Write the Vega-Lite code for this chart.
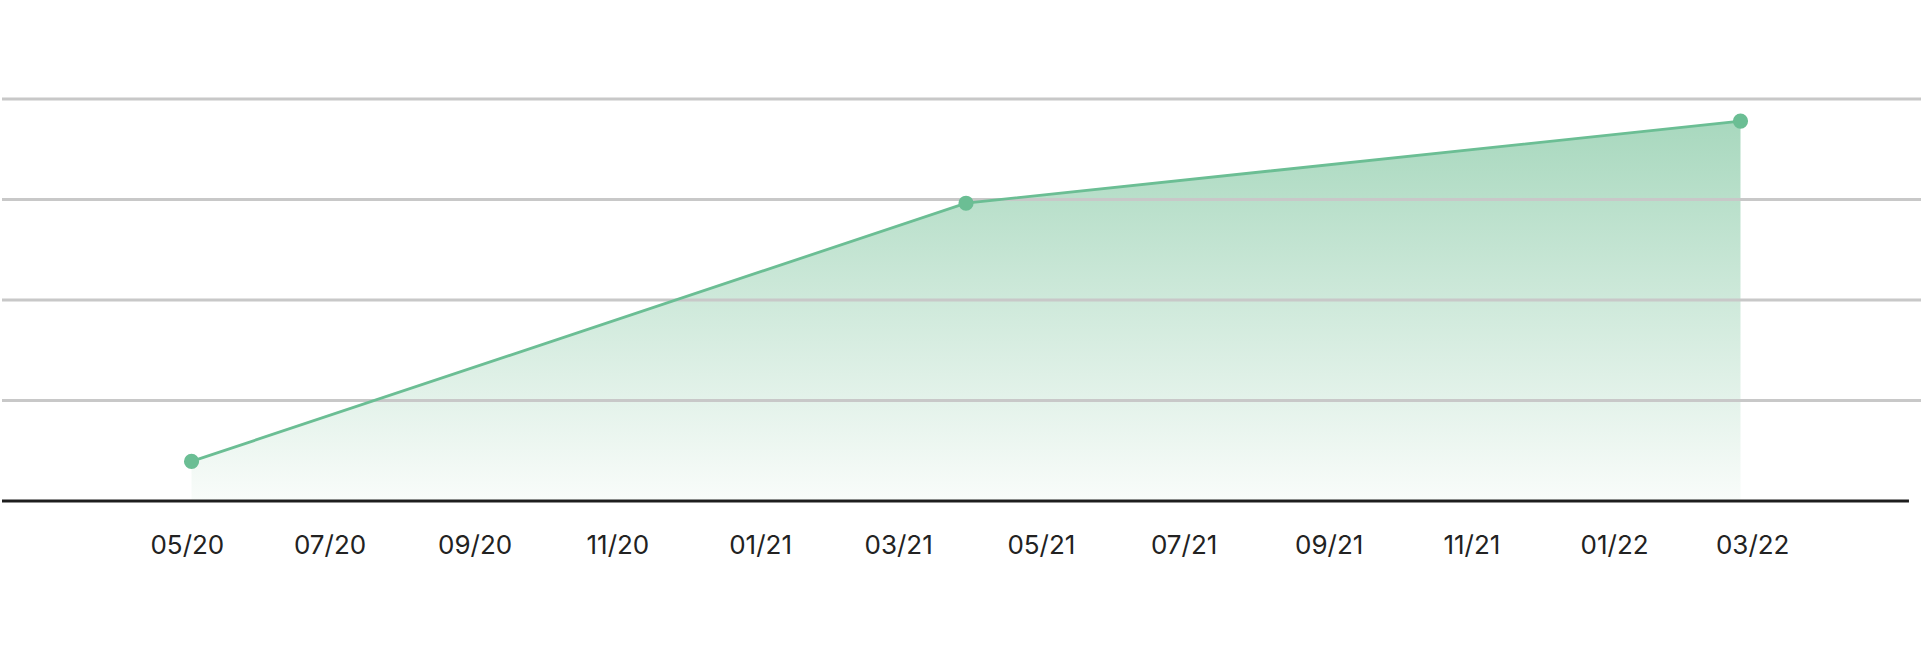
{
  "$schema": "https://vega.github.io/schema/vega-lite/v6.json",
  "width": 1921,
  "height": 402,
  "padding": {"top": 97, "left": 0, "right": 0, "bottom": 0},
  "autosize": {"type": "pad"},
  "background": "white",
  "config": {"view": {"stroke": null}, "font": "Inter"},
  "datasets": {
    "series": [
      {"date": "2020-05-03", "value": 0.394},
      {"date": "2021-03-30", "value": 2.963},
      {"date": "2022-02-24", "value": 3.78}
    ],
    "grid": [{"level": 1}, {"level": 2}, {"level": 3}, {"level": 4}],
    "base": [{"start": "2020-02-12", "end": "2022-05-07", "level": 0}]
  },
  "resolve": {"axis": {"x": "independent", "y": "independent"}},
  "layer": [
    {
      "data": {"name": "series"},
      "mark": {
        "type": "area",
        "color": {
          "gradient": "linear",
          "x1": 0, "y1": 0, "x2": 0, "y2": 1,
          "stops": [
            {"offset": 0, "color": "#a8d8be"},
            {"offset": 1, "color": "#f9fcfa"}
          ]
        }
      },
      "encoding": {
        "x": {
          "field": "date",
          "type": "temporal",
          "scale": {
            "type": "utc",
            "domain": [
              {"year": 2020, "month": "feb", "date": 12, "utc": true},
              {"year": 2022, "month": "may", "date": 13, "utc": true}
            ]
          },
          "axis": {
            "title": null,
            "format": "%m/%y",
            "values": [
              {"year": 2020, "month": "may", "date": 1, "utc": true},
              {"year": 2020, "month": "jul", "date": 1, "utc": true},
              {"year": 2020, "month": "sep", "date": 1, "utc": true},
              {"year": 2020, "month": "nov", "date": 1, "utc": true},
              {"year": 2021, "month": "jan", "date": 1, "utc": true},
              {"year": 2021, "month": "mar", "date": 1, "utc": true},
              {"year": 2021, "month": "may", "date": 1, "utc": true},
              {"year": 2021, "month": "jul", "date": 1, "utc": true},
              {"year": 2021, "month": "sep", "date": 1, "utc": true},
              {"year": 2021, "month": "nov", "date": 1, "utc": true},
              {"year": 2022, "month": "jan", "date": 1, "utc": true},
              {"year": 2022, "month": "mar", "date": 1, "utc": true}
            ],
            "domain": false,
            "ticks": false,
            "tickSize": 0,
            "grid": false,
            "labelFont": "Inter",
            "labelFontSize": 26,
            "labelColor": "#222222",
            "labelPadding": 31,
            "labelOverlap": false,
            "labelFlush": false
          }
        },
        "y": {
          "field": "value",
          "type": "quantitative",
          "scale": {"domain": [0, 4], "nice": false},
          "axis": null
        }
      }
    },
    {
      "data": {"name": "grid"},
      "mark": {"type": "rule", "color": "#c8c8c8", "strokeWidth": 2.8},
      "encoding": {
        "y": {"field": "level", "type": "quantitative", "axis": null}
      }
    },
    {
      "data": {"name": "base"},
      "mark": {"type": "rule", "color": "#1e1e1e", "strokeWidth": 2.8},
      "encoding": {
        "x": {"field": "start", "type": "temporal", "axis": null},
        "x2": {"field": "end"},
        "y": {"field": "level", "type": "quantitative", "axis": null}
      }
    },
    {
      "data": {"name": "series"},
      "mark": {"type": "line", "color": "#6bbe94", "strokeWidth": 2.8},
      "encoding": {
        "x": {"field": "date", "type": "temporal", "axis": null},
        "y": {"field": "value", "type": "quantitative", "axis": null}
      }
    },
    {
      "data": {"name": "series"},
      "mark": {"type": "point", "filled": true, "size": 230, "color": "#6bbe94", "opacity": 1},
      "encoding": {
        "x": {"field": "date", "type": "temporal", "axis": null},
        "y": {"field": "value", "type": "quantitative", "axis": null}
      }
    }
  ]
}
